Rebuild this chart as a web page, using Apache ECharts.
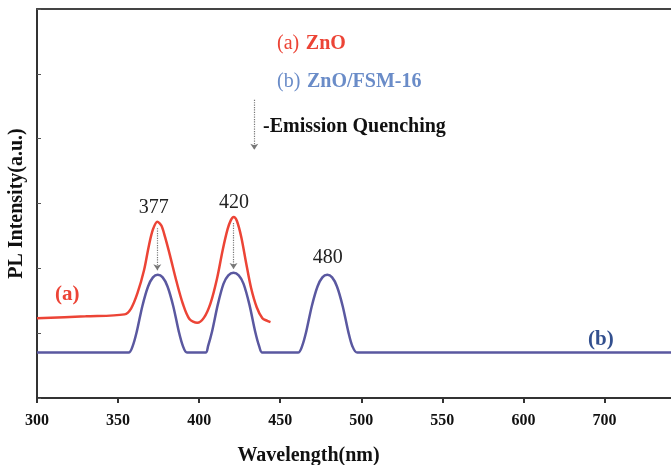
<!DOCTYPE html>
<html>
<head>
<meta charset="utf-8">
<script src="https://cdn.jsdelivr.net/npm/echarts@6/dist/echarts.min.js"></script>
<style>html,body{margin:0;padding:0;background:#fff;}#c{width:671px;height:465px;}</style>
</head>
<body>
<div id="c"></div>
<script>
// Tick labels for the (non-linear labelled) wavelength axis
const xTickLabels = ['300', '350', '400', '450', '500', '550', '600', '700'];

// (a) ZnO  [wavelength, intensity]
const seriesA = [
  [300, 1.23], [330, 1.26], [354, 1.29], [358, 1.38], [362, 1.62], [366, 1.97], [369, 2.35],
  [371.5, 2.60], [374.2, 2.72], [376.7, 2.66], [379, 2.48], [382, 2.20], [386, 1.80], [390, 1.45],
  [394, 1.22], [398.8, 1.16], [403, 1.24], [407, 1.46], [411, 1.84], [414.5, 2.28], [417.5, 2.60],
  [419.5, 2.74], [421.3, 2.79], [423.3, 2.73], [426, 2.48], [429, 2.08], [432, 1.70],
  [435.5, 1.40], [439, 1.23], [442, 1.19], [444, 1.17]
];

// (b) ZnO/FSM-16
const seriesB = [
  [300, 0.70], [356.5, 0.70], [359, 0.80], [361.5, 1.02], [365, 1.42], [368.5, 1.72], [371.5, 1.86],
  [374.5, 1.90], [377.5, 1.86], [380.5, 1.72], [384, 1.42], [387.5, 1.02], [390, 0.80], [392.5, 0.70],
  [404, 0.70], [405.5, 0.80], [408, 1.03], [411.5, 1.44], [415, 1.76], [418, 1.89], [421.2, 1.93],
  [424.4, 1.89], [427.4, 1.76], [431, 1.44], [434.5, 1.03], [437, 0.80], [439, 0.70],
  [461, 0.70], [463.5, 0.80], [466, 1.02], [469.5, 1.42], [473, 1.72], [476, 1.86], [479, 1.90],
  [482, 1.86], [485, 1.72], [488.5, 1.42], [492, 1.02], [494.5, 0.80], [497.5, 0.70], [691, 0.70]
];

// Quenching arrows: [from, to]
const quenchArrows = [
  [[374.2, 2.62], [374.2, 1.97]],
  [[421.2, 2.70], [421.2, 1.99]]
];
const emissionArrow = [[434, 4.6], [434, 3.83]];

// Peak labels
const peakLabels = [
  { text: '377', at: [372, 2.93] },
  { text: '420', at: [421.5, 3.01] },
  { text: '480', at: [479.3, 2.17] }
];

const serif = '"Liberation Serif", "DejaVu Serif", serif';
const redC = '#ec4436';
const blueC = '#5a58a0';

const chart = echarts.init(document.getElementById('c'), null, { renderer: 'canvas' });

const arrowLines = quenchArrows.map(a => [{ coord: a[0] }, { coord: a[1] }]);
arrowLines.push([{ coord: emissionArrow[0] }, { coord: emissionArrow[1] }]);

chart.setOption({
  animation: false,
  backgroundColor: '#ffffff',
  grid: { left: 37, right: 0, top: 9, bottom: 67, containLabel: false, outerBoundsMode: 'none' },
  xAxis: [{
    type: 'value', min: 300, max: 691, interval: 50,
    axisLine: { show: true, lineStyle: { color: '#333', width: 2 } },
    axisTick: { show: true, inside: false, length: 5, lineStyle: { color: '#333', width: 2 } },
    splitLine: { show: false },
    axisLabel: {
      margin: 15, color: '#111', fontFamily: serif, fontWeight: 'bold', fontSize: 16,
      showMaxLabel: false,
      formatter: v => xTickLabels[Math.round((v - 300) / 50)] || ''
    },
    name: 'Wavelength(nm)', nameLocation: 'middle', nameGap: 48,
    nameTextStyle: { color: '#111', fontFamily: serif, fontWeight: 'bold', fontSize: 20, padding: [0, 0, 0, -91] }
  }, {
    type: 'value', position: 'top', min: 300, max: 691,
    axisLine: { show: true, onZero: false, lineStyle: { color: '#444', width: 2 } },
    axisTick: { show: false }, axisLabel: { show: false }, splitLine: { show: false }
  }],
  yAxis: {
    type: 'value', min: 0, max: 6, interval: 1,
    axisLine: { show: true, lineStyle: { color: '#333', width: 2 } },
    axisTick: { show: true, inside: true, length: 4, lineStyle: { color: '#555', width: 1 } },
    axisLabel: { show: false },
    splitLine: { show: false },
    name: 'PL Intensity(a.u.)', nameLocation: 'middle', nameGap: 10, nameRotate: 90,
    nameTextStyle: { color: '#111', fontFamily: serif, fontWeight: 'bold', fontSize: 20 }
  },
  series: [
    {
      name: 'ZnO', type: 'line', data: seriesA, smooth: 0.3, showSymbol: false,
      lineStyle: { color: redC, width: 2.5 }, z: 3
    },
    {
      name: 'ZnO/FSM-16', type: 'line', data: seriesB, smooth: 0.3, showSymbol: false,
      lineStyle: { color: blueC, width: 2.5 }, z: 3,
      markLine: {
        silent: true, symbol: ['none', 'arrow'], symbolSize: 6,
        lineStyle: { color: '#777', type: 'dotted', width: 1.2 },
        label: { show: false },
        data: arrowLines
      },
      markPoint: {
        silent: true, symbol: 'circle', symbolSize: 0,
        label: { show: true, color: '#222', fontFamily: serif, fontSize: 20, formatter: p => p.name },
        data: peakLabels.map(p => ({ name: p.text, coord: p.at }))
      }
    }
  ],
  graphic: [
    {
      type: 'text', left: 277, top: 34,
      style: {
        text: '{n|(a)}  {b|ZnO}',
        rich: {
          n: { fill: redC, font: '20px ' + serif },
          b: { fill: redC, font: 'bold 20px ' + serif }
        }
      }
    },
    {
      type: 'text', left: 277, top: 72,
      style: {
        text: '{n|(b)}  {b|ZnO/FSM-16}',
        rich: {
          n: { fill: '#6a8cc8', font: '20px ' + serif },
          b: { fill: '#6a8cc8', font: 'bold 20px ' + serif }
        }
      }
    },
    {
      type: 'text', left: 263, top: 117,
      style: { text: '-Emission Quenching', fill: '#111', font: 'bold 20px ' + serif }
    },
    {
      type: 'text', left: 55, top: 284,
      style: { text: '(a)', fill: redC, font: 'bold 21px ' + serif }
    },
    {
      type: 'text', left: 588, top: 329,
      style: { text: '(b)', fill: '#33508f', font: 'bold 21px ' + serif }
    }
  ]
});
</script>
</body>
</html>
